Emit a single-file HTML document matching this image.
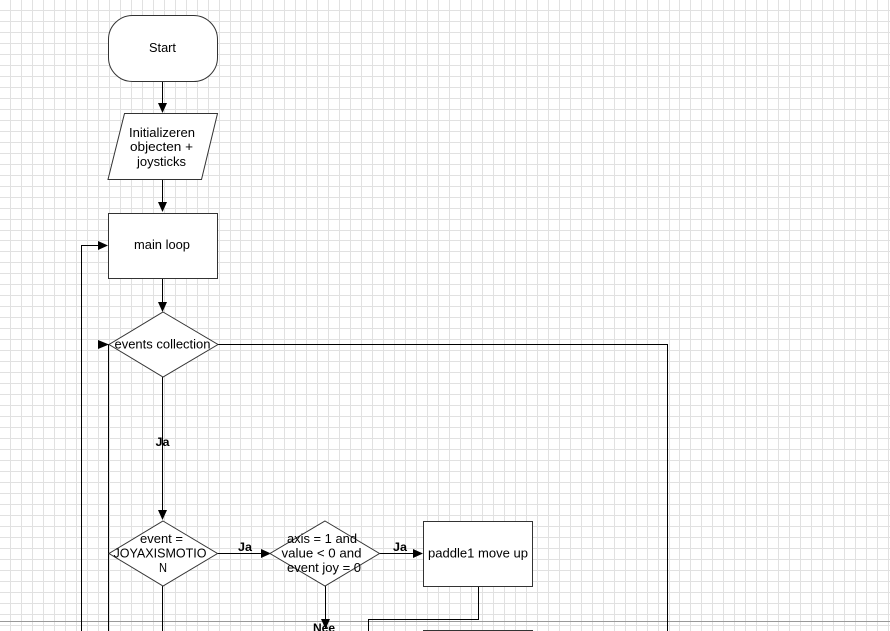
<!DOCTYPE html>
<html><head><meta charset="utf-8"><style>
html,body{margin:0;padding:0;background:#fff;}
svg{display:block;}
text{font-family:"Liberation Sans",Arial,sans-serif;fill:#000;}
</style></head><body>
<svg width="890" height="631" viewBox="0 0 890 631" xmlns="http://www.w3.org/2000/svg">
<g stroke="#e1e1e1" stroke-width="1" shape-rendering="crispEdges" fill="none">
<path d="M10.5 0V631M21.5 0V631M32.5 0V631M43.5 0V631M54.5 0V631M65.5 0V631M76.5 0V631M87.5 0V631M98.5 0V631M109.5 0V631M120.5 0V631M131.5 0V631M142.5 0V631M153.5 0V631M164.5 0V631M175.5 0V631M186.5 0V631M197.5 0V631M208.5 0V631M219.5 0V631M230.5 0V631M240.5 0V631M251.5 0V631M262.5 0V631M273.5 0V631M284.5 0V631M295.5 0V631M306.5 0V631M317.5 0V631M328.5 0V631M339.5 0V631M350.5 0V631M361.5 0V631M372.5 0V631M383.5 0V631M394.5 0V631M405.5 0V631M416.5 0V631M427.5 0V631M438.5 0V631M449.5 0V631M460.5 0V631M471.5 0V631M482.5 0V631M493.5 0V631M504.5 0V631M515.5 0V631M526.5 0V631M537.5 0V631M548.5 0V631M559.5 0V631M570.5 0V631M581.5 0V631M592.5 0V631M603.5 0V631M614.5 0V631M625.5 0V631M636.5 0V631M647.5 0V631M658.5 0V631M669.5 0V631M679.5 0V631M690.5 0V631M701.5 0V631M712.5 0V631M723.5 0V631M734.5 0V631M745.5 0V631M756.5 0V631M767.5 0V631M778.5 0V631M789.5 0V631M800.5 0V631M811.5 0V631M822.5 0V631M833.5 0V631M844.5 0V631M855.5 0V631M866.5 0V631M877.5 0V631M888.5 0V631"/>
<path d="M0 10.5H890M0 21.5H890M0 32.5H890M0 43.5H890M0 54.5H890M0 65.5H890M0 76.5H890M0 87.5H890M0 98.5H890M0 109.5H890M0 120.5H890M0 131.5H890M0 142.5H890M0 153.5H890M0 164.5H890M0 175.5H890M0 186.5H890M0 197.5H890M0 208.5H890M0 219.5H890M0 230.5H890M0 240.5H890M0 251.5H890M0 262.5H890M0 273.5H890M0 284.5H890M0 295.5H890M0 306.5H890M0 317.5H890M0 328.5H890M0 339.5H890M0 350.5H890M0 361.5H890M0 372.5H890M0 383.5H890M0 394.5H890M0 405.5H890M0 416.5H890M0 427.5H890M0 438.5H890M0 449.5H890M0 460.5H890M0 471.5H890M0 482.5H890M0 493.5H890M0 504.5H890M0 515.5H890M0 526.5H890M0 537.5H890M0 548.5H890M0 559.5H890M0 570.5H890M0 581.5H890M0 592.5H890M0 603.5H890M0 614.5H890M0 625.5H890"/>
</g>
<path d="M0 621.5H890" stroke="#9a9a9a" stroke-width="1" shape-rendering="crispEdges"/>

<!-- connectors -->
<g stroke="#000" stroke-width="1" fill="none" shape-rendering="crispEdges">
<path d="M162.5 81V104"/>
<path d="M162.5 179V203"/>
<path d="M162.5 278V302"/>
<path d="M162.5 377V510"/>
<path d="M162.5 586V631"/>
<path d="M81.5 631V245.5H98"/>
<path d="M108.5 344V631"/>
<path d="M218 344.5H667.5V631"/>
<path d="M217 553.5H262"/>
<path d="M379 553.5H413"/>
<path d="M325.5 586V620"/>
<path d="M478.5 587V619.5H368.5V631"/>
</g>
<g fill="#000">
<path d="M158 103L167 103L162.5 113Z"/>
<path d="M158 202L167 202L162.5 212Z"/>
<path d="M158 302L167 302L162.5 312Z"/>
<path d="M158 510L167 510L162.5 520Z"/>
<path d="M98 241L108 245.5L98 250Z"/>
<path d="M98 340L109 344.5L98 349Z"/>
<path d="M261 549L271 553.5L261 558Z"/>
<path d="M413 549L423 553.5L413 558Z"/>
<path d="M321 619L330 619L325.5 629Z"/>
</g>

<!-- shapes -->
<g stroke="#333" stroke-width="1" fill="#fff">
<rect x="108.5" y="15.5" width="109" height="66" rx="24" ry="24"/>
<path d="M124.5 113.5H217.5L201.5 179.5H108L124.5 113.5Z"/>
<rect x="108.5" y="213.5" width="109" height="65" shape-rendering="crispEdges"/>
<path d="M163 312L218 344.5L163 377L109 344.5Z"/>
<path d="M163 521L217.5 553.5L163 586L109 553.5Z"/>
<path d="M325 521L379.5 553.5L325 586L270 553.5Z"/>
<rect x="423.5" y="521.5" width="109" height="65" shape-rendering="crispEdges"/>
<rect x="423.5" y="630.5" width="109" height="20" shape-rendering="crispEdges"/>
</g>

<!-- text -->
<g font-size="13" text-anchor="middle">
<text x="162.5" y="52" textLength="27" lengthAdjust="spacingAndGlyphs">Start</text>
<text x="162" y="137" textLength="66" lengthAdjust="spacingAndGlyphs">Initializeren</text>
<text x="161.5" y="151" textLength="63" lengthAdjust="spacingAndGlyphs">objecten +</text>
<text x="161.5" y="166" textLength="49" lengthAdjust="spacingAndGlyphs">joysticks</text>
<text x="162" y="249" textLength="56" lengthAdjust="spacingAndGlyphs">main loop</text>
<text x="162.5" y="348.5" textLength="96" lengthAdjust="spacingAndGlyphs">events collection</text>
<text x="161.5" y="543" textLength="43" lengthAdjust="spacingAndGlyphs">event =</text>
<text x="160" y="557.5" textLength="93" lengthAdjust="spacingAndGlyphs">JOYAXISMOTIO</text>
<text x="163" y="572" textLength="8" lengthAdjust="spacingAndGlyphs">N</text>
<text x="322" y="543" textLength="70" lengthAdjust="spacingAndGlyphs">axis = 1 and</text>
<text x="321.5" y="557.5" textLength="80" lengthAdjust="spacingAndGlyphs">value &lt; 0 and</text>
<text x="324" y="572" textLength="74" lengthAdjust="spacingAndGlyphs">event joy = 0</text>
<text x="478" y="557.5" textLength="100" lengthAdjust="spacingAndGlyphs">paddle1 move up</text>
</g>
<g font-size="12" font-weight="bold" text-anchor="middle">
<text x="162.5" y="446" textLength="14" lengthAdjust="spacingAndGlyphs">Ja</text>
<text x="245" y="551" textLength="14" lengthAdjust="spacingAndGlyphs">Ja</text>
<text x="400" y="551" textLength="14" lengthAdjust="spacingAndGlyphs">Ja</text>
<text x="324" y="632">Nee</text>
</g>
</svg>
</body></html>
